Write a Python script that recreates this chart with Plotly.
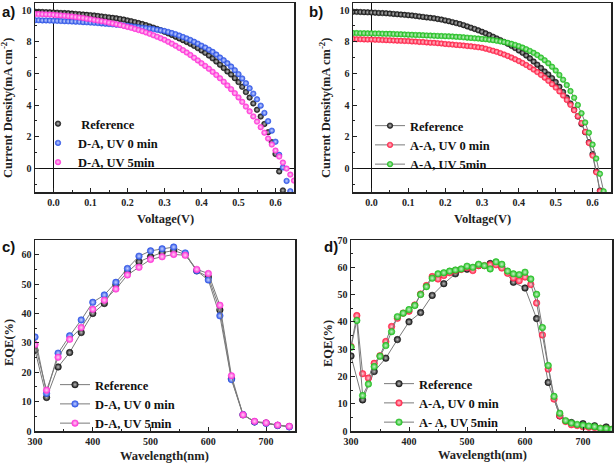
import plotly.graph_objects as go

# ---------------- data ----------------
voltage = [-0.05, -0.04, -0.03, -0.02, -0.01, 0.00, 0.01, 0.02, 0.03, 0.04, 0.05,
           0.06, 0.07, 0.08, 0.09, 0.10, 0.11, 0.12, 0.13, 0.14, 0.15,
           0.16, 0.17, 0.18, 0.19, 0.20, 0.21, 0.22, 0.23, 0.24, 0.25,
           0.26, 0.27, 0.28, 0.29, 0.30, 0.31, 0.32, 0.33, 0.34, 0.35,
           0.36, 0.37, 0.38, 0.39, 0.40, 0.41, 0.42, 0.43, 0.44, 0.45,
           0.46, 0.47, 0.48, 0.49, 0.50, 0.51, 0.52, 0.53, 0.54, 0.55,
           0.56, 0.57, 0.58, 0.59, 0.60, 0.61, 0.62, 0.63, 0.64, 0.65]

jv_reference = [9.90, 9.89, 9.88, 9.87, 9.86, 9.85,
                9.84, 9.82, 9.81, 9.80, 9.78,
                9.76, 9.74, 9.72, 9.70, 9.68,
                9.66, 9.63, 9.60, 9.57, 9.54,
                9.51, 9.48, 9.44, 9.40, 9.35,
                9.30, 9.24, 9.18, 9.12, 9.05,
                8.97, 8.89, 8.81, 8.72, 8.63,
                8.53, 8.43, 8.32, 8.21, 8.10,
                7.99, 7.87, 7.74, 7.60, 7.45,
                7.30, 7.13, 6.95, 6.75, 6.55,
                6.34, 6.12, 5.93, 5.70, 5.45,
                5.15, 4.82, 4.47, 4.10, 3.70,
                3.27, 2.80, 2.28, 1.65, 0.90,
                -0.20, -1.40]

jv_da_uv0 = [9.36, 9.36, 9.35, 9.35, 9.34, 9.33,
             9.32, 9.31, 9.30, 9.29, 9.28,
             9.27, 9.26, 9.24, 9.23, 9.21,
             9.20, 9.18, 9.16, 9.14, 9.12,
             9.10, 9.08, 9.06, 9.03, 9.01,
             8.98, 8.95, 8.92, 8.89, 8.86,
             8.83, 8.80, 8.76, 8.72, 8.68,
             8.62, 8.55, 8.48, 8.39, 8.30,
             8.21, 8.11, 8.00, 7.88, 7.75,
             7.63, 7.50, 7.36, 7.19, 7.00,
             6.83, 6.64, 6.43, 6.20, 5.95,
             5.68, 5.38, 5.06, 4.72, 4.36,
             3.96, 3.50, 2.98, 2.38, 1.68,
             0.85, 0.05, -0.80, -1.45]

jv_da_uv5 = [9.76, 9.75, 9.74, 9.73, 9.72, 9.70,
             9.68, 9.66, 9.64, 9.62, 9.59,
             9.56, 9.53, 9.50, 9.46, 9.42,
             9.38, 9.34, 9.30, 9.26, 9.21,
             9.16, 9.11, 9.06, 9.00, 8.94,
             8.88, 8.81, 8.74, 8.67, 8.59,
             8.50, 8.41, 8.32, 8.22, 8.12,
             8.00, 7.88, 7.75, 7.61, 7.47,
             7.32, 7.16, 6.99, 6.82, 6.64,
             6.47, 6.29, 6.10, 5.90, 5.69,
             5.47, 5.24, 5.00, 4.75, 4.48,
             4.20, 3.90, 3.60, 3.28, 2.95,
             2.60, 2.25, 1.88, 1.50, 1.12,
             0.74, 0.36, -0.02, -0.40, -0.78]

jv_aa_uv0 = [8.17, 8.16, 8.16, 8.15, 8.14, 8.14,
             8.13, 8.12, 8.11, 8.10, 8.09,
             8.08, 8.07, 8.06, 8.05, 8.04,
             8.02, 8.01, 7.99, 7.98, 7.96,
             7.94, 7.93, 7.91, 7.89, 7.86,
             7.84, 7.82, 7.80, 7.78, 7.76,
             7.73, 7.71, 7.68, 7.65, 7.62,
             7.56, 7.50, 7.43, 7.36, 7.28,
             7.19, 7.10, 7.00, 6.89, 6.78,
             6.66, 6.53, 6.39, 6.24, 6.08,
             5.91, 5.73, 5.53, 5.32, 5.10,
             4.86, 4.60, 4.32, 4.01, 3.67,
             3.29, 2.86, 2.30, 1.60, 0.80,
             -0.25, -1.45]

jv_aa_uv5 = [8.55, 8.55, 8.54, 8.54, 8.53, 8.53,
             8.52, 8.52, 8.51, 8.50, 8.50,
             8.49, 8.48, 8.47, 8.46, 8.45,
             8.44, 8.43, 8.42, 8.41, 8.40,
             8.39, 8.38, 8.37, 8.36, 8.35,
             8.34, 8.33, 8.31, 8.30, 8.28,
             8.26, 8.24, 8.22, 8.20, 8.18,
             8.16, 8.13, 8.10, 8.06, 8.02,
             7.98, 7.93, 7.87, 7.80, 7.72,
             7.63, 7.53, 7.42, 7.30, 7.16,
             7.00, 6.83, 6.64, 6.42, 6.18,
             5.90, 5.60, 5.26, 4.88, 4.46,
             4.00, 3.48, 2.90, 2.25, 1.50,
             0.62, -0.35, -1.45]

wavelength_c = [300, 320, 340, 360, 380, 400, 420, 440, 460, 480, 500, 520,
                540, 560, 580, 600, 620, 640, 660, 680, 700, 720, 740]
eqe_reference = [27.5, 11.4, 21.8, 26.7, 33.5, 40.0, 43.4, 49.7, 54.0, 57.6, 59.3, 60.7,
                 61.4, 60.1, 54.5, 52.4, 41.2, 17.8, 5.5, 3.1, 2.7, 1.9, 1.5]
eqe_da_uv0 = [32.0, 12.8, 26.5, 32.4, 37.8, 43.8, 46.3, 50.6, 55.3, 59.5, 61.3, 62.0,
              62.6, 60.6, 54.5, 51.4, 39.2, 17.5, 5.6, 3.1, 2.6, 1.9, 1.4]
eqe_da_uv5 = [29.4, 13.9, 25.1, 31.2, 35.2, 41.4, 44.5, 48.3, 53.1, 55.7, 58.4, 59.3,
              60.1, 59.8, 55.0, 53.6, 42.8, 18.8, 5.5, 3.3, 2.8, 2.0, 1.6]

wavelength_d = [300, 310, 320, 330, 340, 350, 360, 370, 380, 390,
                400, 410, 420, 430, 440, 450, 460, 470, 480, 490,
                500, 510, 520, 530, 540, 550, 560, 570, 580, 590,
                600, 610, 620, 630, 640, 650, 660, 670, 680, 690,
                700, 710, 720, 730, 740, 750]
eqe_aa_uv0 = [31.0, 42.3, 21.0, 19.4, 24.8, 27.6, 32.8, 38.3, 41.3, 43.2,
              43.9, 46.2, 50.2, 53.3, 56.6, 55.7, 57.0, 58.0, 58.8, 59.2,
              59.9, 58.8, 60.6, 60.6, 60.9, 60.9, 59.7, 57.8, 56.1, 55.1,
              56.4, 53.7, 46.9, 35.2, 22.7, 11.7, 5.6, 3.5, 2.3, 2.0,
              1.6, 1.4, 1.3, 1.0, 0.8, 0.6]
eqe_aa_uv5 = [30.7, 40.5, 13.0, 17.2, 23.6, 27.4, 31.3, 36.4, 41.9, 43.2,
              44.5, 46.0, 50.0, 52.9, 56.0, 57.6, 58.0, 58.6, 59.0, 59.4,
              60.4, 60.0, 61.1, 60.6, 59.4, 62.0, 61.1, 58.6, 57.6, 57.3,
              58.2, 55.7, 50.1, 37.9, 24.0, 12.7, 6.5, 3.8, 2.9, 2.4,
              2.1, 1.8, 1.6, 1.0, 0.9, 0.6]

# ---------------- style ----------------
W, H = 614, 465
SERIF = "Liberation Serif"
SANS = "Liberation Sans"
C_BLACK = "#151515"
C_BLUE = "#2f55e6"
C_PINK = "#ff36d8"
C_RED = "#ff2449"
C_GREEN = "#22bf22"
C_LINE = "#7a7a7a"

TINT = {C_BLACK: "#bdbdbd", C_BLUE: "#c6d2ff", C_PINK: "#ffd0f4",
        C_RED: "#ffc8d2", C_GREEN: "#c8f0c8"}


def px(x):
    return x / W


def py(y):
    return 1 - y / H


fig = go.Figure()


def mk(color, size):
    return dict(color=color, size=size, symbol="circle",
                gradient=dict(type="radial", color=TINT[color]),
                line=dict(color=color, width=0.6))


# panel a
for name, ys, col in [("\u00a0Reference", jv_reference, C_BLACK),
                      ("D-A, UV 0 min", jv_da_uv0, C_BLUE),
                      ("D-A, UV 5min", jv_da_uv5, C_PINK)]:
    fig.add_trace(go.Scatter(x=voltage[:len(ys)], y=ys, mode="markers", name=name,
                             marker=mk(col, 5.5), xaxis="x", yaxis="y",
                             legend="legend"))
# panel b
for name, ys, col in [("Reference", jv_reference, C_BLACK),
                      ("A-A, UV 0 min", jv_aa_uv0, C_RED),
                      ("A-A, UV 5min", jv_aa_uv5, C_GREEN)]:
    fig.add_trace(go.Scatter(x=voltage[:len(ys)], y=ys, mode="lines+markers", name=name,
                             line=dict(color=C_LINE, width=1),
                             marker=mk(col, 5.5), xaxis="x2", yaxis="y2",
                             legend="legend2"))
# panel c
for name, ys, col in [("Reference", eqe_reference, C_BLACK),
                      ("D-A, UV 0 min", eqe_da_uv0, C_BLUE),
                      ("D-A, UV 5min", eqe_da_uv5, C_PINK)]:
    fig.add_trace(go.Scatter(x=wavelength_c, y=ys, mode="lines+markers", name=name,
                             line=dict(color=C_LINE, width=1),
                             marker=mk(col, 6.5), xaxis="x3", yaxis="y3",
                             legend="legend3"))
# panel d
for name, xs, ys, col in [("Reference", wavelength_c, eqe_reference, C_BLACK),
                          ("A-A, UV 0 min", wavelength_d, eqe_aa_uv0, C_RED),
                          ("A- A, UV 5min", wavelength_d, eqe_aa_uv5, C_GREEN)]:
    fig.add_trace(go.Scatter(x=xs, y=ys, mode="lines+markers", name=name,
                             line=dict(color=C_LINE, width=1),
                             marker=mk(col, 6.5), xaxis="x4", yaxis="y4",
                             legend="legend4"))

tickfont = dict(family=SERIF, size=10, color="#222", weight="bold")


def axis(domain, rng, dtick, minor_dtick, anchor, fmt=None, zero=False):
    d = dict(domain=domain, range=rng, dtick=dtick, tick0=0, anchor=anchor,
             automargin=False,
             showgrid=False, showline=True, mirror=True, linecolor="#222", linewidth=1.5,
             ticks="inside", ticklen=4, tickwidth=1, tickcolor="#222",
             tickfont=tickfont,
             minor=dict(dtick=minor_dtick, ticks="inside", ticklen=2, tickcolor="#222",
                        showgrid=False),
             zeroline=zero, zerolinecolor="#111", zerolinewidth=1.2)
    if fmt:
        d["tickformat"] = fmt
    return d


xa_dom = [px(35), px(294)]
xb_dom = [px(353), px(611)]
xc_dom = [px(35), px(295)]
xd_dom = [px(351), px(612)]
ytop_dom = [py(192), py(3)]
ybot_dom = [py(431), py(240)]

legfont = dict(family=SERIF, size=12.5, color="#111", weight="bold")
leg = dict(xanchor="left", yanchor="top", bgcolor="rgba(0,0,0,0)", font=legfont,
           tracegroupgap=0, borderwidth=0)

fig.update_layout(
    width=W, height=H,
    margin=dict(l=0, r=0, t=0, b=0, autoexpand=False),
    paper_bgcolor="white", plot_bgcolor="white",
    font=dict(family=SERIF, color="#111"),
    xaxis=axis(xa_dom, [-0.05, 0.65], 0.1, 0.05, "y", ".1f", zero=True),
    yaxis=axis(ytop_dom, [-1.5, 10.45], 2, 1, "x", zero=True),
    xaxis2=axis(xb_dom, [-0.05, 0.65], 0.1, 0.05, "y2", ".1f", zero=True),
    yaxis2=axis(ytop_dom, [-1.5, 10.45], 2, 1, "x2", zero=True),
    xaxis3=axis(xc_dom, [300, 750], 100, 50, "y3"),
    yaxis3=axis(ybot_dom, [0, 65], 10, 5, "x3"),
    xaxis4=axis(xd_dom, [300, 750], 100, 50, "y4"),
    yaxis4=axis(ybot_dom, [0, 70], 10, 5, "x4"),
    legend=dict(leg, x=px(38), y=py(109)),
    legend2=dict(leg, x=px(370), y=py(111)),
    legend3=dict(leg, x=px(55), y=py(370)),
    legend4=dict(leg, x=px(379), y=py(369)),
)

titlefont = dict(family=SERIF, size=12.5, color="#222", weight="bold")
labelfont = dict(family=SANS, size=15, color="#111", weight="bold")
ann = []
# panel labels
for t, x, y in [("a)", 0, 12), ("b)", 307, 12), ("c)", 0, 247), ("d)", 322, 247)]:
    ann.append(dict(text=t, x=px(x), y=py(y), xref="paper", yref="paper",
                    xanchor="left", yanchor="middle", showarrow=False, font=labelfont))
# axis titles
for t, x, y, ang in [("Current Density(mA cm<sup>-2</sup>)", 7, 108, -90),
                     ("Current Density(mA cm<sup>-2</sup>)", 325, 108, -90),
                     ("EQE(%)", 9, 343, -90),
                     ("EQE(%)", 328, 344, -90),
                     ("Voltage(V)", 165, 219, 0),
                     ("Voltage(V)", 482, 219, 0),
                     ("Wavelength(nm)", 164, 456, 0),
                     ("Wavelength(nm)", 482, 455, 0)]:
    ann.append(dict(text=t, x=px(x), y=py(y), xref="paper", yref="paper",
                    xanchor="center", yanchor="middle", showarrow=False,
                    textangle=ang, font=titlefont))
fig.update_layout(annotations=ann)

fig.write_html("out.html",
               config={"displayModeBar": False, "staticPlot": True},
               post_script="document.body.style.margin='0px';"
                           "document.body.style.overflow='hidden';")
